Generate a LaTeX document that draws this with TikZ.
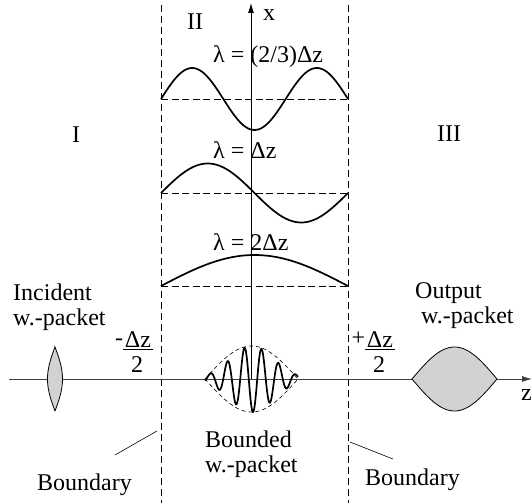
\documentclass[tikz,border=0pt]{standalone}
\usepackage{fontspec}
\setmainfont{Liberation Serif}
\usetikzlibrary{arrows.meta}

\begin{document}
\begin{tikzpicture}[x=1pt,y=-1pt,
lbl/.style={font=\fontsize{24}{25}\selectfont,inner sep=0pt},
txt/.style={lbl,align=left,anchor=base west},
bnd/.style={dash pattern=on 7pt off 4pt,line width=0.8pt},
zero/.style={dash pattern=on 7pt off 3.5pt,line width=0.7pt},
env/.style={dash pattern=on 4pt off 3pt,line width=0.6pt},
wave/.style={line width=1.7pt},
axis/.style={line width=0.9pt,-{Latex[length=10pt,width=6pt]}},
pkt/.style={draw,line width=0.8pt,fill=gray!35},
fnum/.style={lbl,anchor=base,inner xsep=1.5pt,inner ysep=2pt},
sgn/.style={lbl,anchor=base east,yshift=2pt},
leader/.style={line width=0.6pt}]
\useasboundingbox (0,0) rectangle (532,503);
\coordinate (zstart) at (9,379);
\coordinate (zend) at (532,379);
\coordinate (xfoot) at (251,379);
\coordinate (xtop) at (251,3);
\coordinate (ltop) at (161,5);
\coordinate (lbot) at (161,503);
\coordinate (rtop) at (348,5);
\coordinate (rbot) at (348,503);
\draw[bnd] (ltop) -- (lbot);
\draw[bnd] (rtop) -- (rbot);
\foreach \y in {99,193,286}
  \draw[zero] (161,\y) -- (348,\y);
\draw[axis,black!75] (zstart) -- (zend);
\draw[axis] (xfoot) -- (xtop);
\draw[wave] plot[domain=161:348,samples=120] (\x,{99-31*sin((\x-161)/187*540)});
\draw[wave] plot[domain=161:348,samples=100] (\x,{193-29.5*sin((\x-161)/187*360)});
\draw[wave] plot[domain=161:348,samples=60] (\x,{286-31*sin((\x-161)/187*180)});
\draw[env] plot[domain=205:298,samples=60] (\x,{379-33*sin((\x-205)/93*180)})
  -- plot[domain=298:205,samples=60] (\x,{379+33*sin((\x-205)/93*180)}) -- cycle;
\draw[wave] plot[domain=205:298,samples=240] (\x,{379+33*exp(-((\x-252)/22)^2/2)*cos((\x-253)/17*360)});
\draw[pkt] plot[domain=347:411,samples=50] ({55+7.5*sin((\x-347)/64*180)},\x)
  -- plot[domain=411:347,samples=50] ({55-7.5*sin((\x-347)/64*180)},\x) -- cycle;
\draw[pkt] plot[domain=412:497,samples=60] (\x,{379-32*sin((\x-412)/85*180)})
  -- plot[domain=497:412,samples=60] (\x,{379+32*sin((\x-412)/85*180)}) -- cycle;
\node[txt] (regI) at (72,142) {I};
\node[txt] (regII) at (187,30) {II};
\node[txt] (regIII) at (437,141) {III};
\node[txt] (xlab) at (263,21) {x};
\node[txt] (zlab) at (521,400) {z};
\node[txt] (lamA) at (213,63) {λ = (2/3)Δz};
\node[txt] (lamB) at (213,158) {λ = Δz};
\node[txt] (lamC) at (213,250) {λ = 2Δz};
\node[txt] (incident) at (13,325) {Incident\\w.-packet};
\node[txt] (output) at (415,323) {Output\\\hspace*{6pt}w.-packet};
\node[txt] (bounded) at (205,472) {Bounded\\w.-packet};
\node[txt] (lbound) at (37,490) {Boundary};
\node[txt] (rbound) at (365,485) {Boundary};
\node[fnum] (lnum) at (138,347) {Δz};
\node[lbl,anchor=base] (lden) at (137,372) {2};
\node[sgn] (lsign) at (lnum.base west) {-};
\draw[line width=0.9pt] (lnum.south west) -- (lnum.south east);
\node[fnum] (rnum) at (380,347) {Δz};
\node[lbl,anchor=base] (rden) at (379,372) {2};
\node[sgn] (rsign) at (rnum.base west) {+};
\draw[line width=0.9pt] (rnum.south west) -- (rnum.south east);
\coordinate (lbtick) at (157,431);
\coordinate (lbfoot) at (115,455);
\coordinate (rbtick) at (350,442);
\coordinate (rbfoot) at (393,459);
\draw[leader] (lbtick) -- (lbfoot);
\draw[leader] (rbtick) -- (rbfoot);
\end{tikzpicture}
\end{document}
